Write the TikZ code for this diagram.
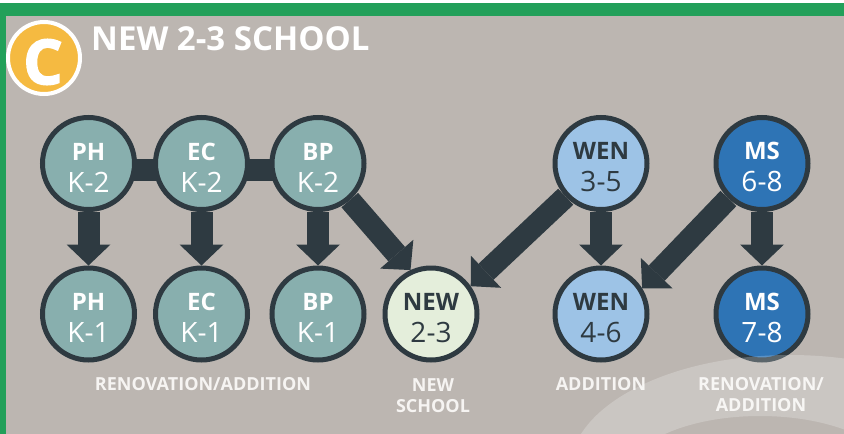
\documentclass[tikz,border=0pt]{standalone}
\usepackage{fontspec}
\setmainfont{Open Sans}
\usetikzlibrary{arrows.meta}
\definecolor{bggray}{HTML}{BCB6B1}
\definecolor{frame}{HTML}{22A05A}
\definecolor{dk}{HTML}{2E3A41}
\definecolor{tealc}{HTML}{88AFAE}
\definecolor{newc}{HTML}{E4EEDB}
\definecolor{wenc}{HTML}{9DC3E6}
\definecolor{msc}{HTML}{2E74B5}
\definecolor{logoc}{HTML}{F5BA41}
\definecolor{lbl}{HTML}{F6F4F2}
\pgfdeclarelayer{under}
\pgfdeclarelayer{links}
\pgfdeclarelayer{over}
\pgfsetlayers{under,links,main,over}
\newcommand\cl[2]{\rule{0pt}{25pt}{\bfseries\fontsize{24}{32}\selectfont #1}\\#2}
\tikzset{
  school/.style={circle, draw=dk, line width=5pt, minimum size=92pt, inner sep=0pt,
    align=center, font=\fontsize{28}{32}\selectfont},
  tealschool/.style={school, fill=tealc, text=white},
  newschool/.style={school, fill=newc, text=dk},
  wenschool/.style={school, fill=wenc, text=dk},
  msschool/.style={school, fill=msc, text=white},
  linkbar/.style={draw=dk, line width=22pt},
  fat/.style={draw=dk, line width=22pt, -{Triangle[width=44pt,length=21pt,line width=0pt]}},
  lab/.style={text=lbl, font=\bfseries\fontsize{18}{21}\selectfont, align=center, inner sep=0pt, anchor=north}
}
\begin{document}
\begin{tikzpicture}[x=1pt,y=-1pt]
\useasboundingbox (0,0) rectangle (844,434);
\begin{pgfonlayer}{under}
  \fill[white] (0,0) rectangle (844,434);
  \fill[frame] (0,3) rectangle (844,434);
  \fill[bggray] (6,16) rectangle (844,434);
\end{pgfonlayer}

% logo and title
\node[circle, fill=logoc, draw=white, line width=4pt, minimum size=72pt, inner sep=0pt] (logo) at (44,58) {};
\node[text=white, inner sep=0pt, font=\bfseries\fontsize{62}{62}\selectfont\addfontfeature{FakeBold=2.5}] (logoC) at (43,62) {C};
\node[anchor=base west, inner sep=0pt, text=white, font=\bfseries\fontsize{33}{33}\selectfont] (title) at (91,50) {NEW 2-3 SCHOOL};

% top row
\node[tealschool] (ph1) at (88.5,163.5) {\cl{PH}{K-2}};
\node[tealschool] (ec1) at (201.5,163.5) {\cl{EC}{K-2}};
\node[tealschool] (bp1) at (318,163.5) {\cl{BP}{K-2}};
\node[wenschool] (wen1) at (601,163.5) {\cl{WEN}{3-5}};
\node[msschool] (ms1) at (762,163.5) {\cl{MS}{6-8}};

% bottom row
\node[tealschool] (ph2) at (88.5,314) {\cl{PH}{K-1}};
\node[tealschool] (ec2) at (201.5,314) {\cl{EC}{K-1}};
\node[tealschool] (bp2) at (318,314) {\cl{BP}{K-1}};
\node[newschool] (new) at (431,314) {\cl{NEW}{2-3}};
\node[wenschool] (wen2) at (601,314) {\cl{WEN}{4-6}};
\node[msschool] (ms2) at (762,314) {\cl{MS}{7-8}};

% labels
\node[lab] (l1) at (203,377) {RENOVATION/ADDITION};
\node[lab] (l2) at (433,378) {NEW\\SCHOOL};
\node[lab] (l3) at (601,377) {ADDITION};
\node[lab] (l4) at (761,377) {RENOVATION/\\ADDITION};

% connectors
\begin{pgfonlayer}{links}
  \draw[linkbar] ([yshift=-6pt]ph1.center) -- ([yshift=-6pt]bp1.center);
  \draw[fat] (ph1) -- (ph2);
  \draw[fat] (ec1) -- (ec2);
  \draw[fat] (bp1) -- (bp2);
  \draw[fat] (bp1) -- (new.115);
  \draw[fat] (wen1) -- (new.35);
  \draw[fat] (wen1) -- (wen2);
  \draw[fat] (ms1) -- (wen2.32);
  \draw[fat] (ms1) -- (ms2);
\end{pgfonlayer}

% watermark swoosh
\begin{pgfonlayer}{over}
  \begin{scope}
    \clip (6,16) rectangle (844,434);
    \fill[white, opacity=0.22, even odd rule]
      (790,470) ellipse [x radius=220pt, y radius=115pt]
      (760,478) ellipse [x radius=135pt, y radius=62pt];
  \end{scope}
\end{pgfonlayer}
\end{tikzpicture}
\end{document}
